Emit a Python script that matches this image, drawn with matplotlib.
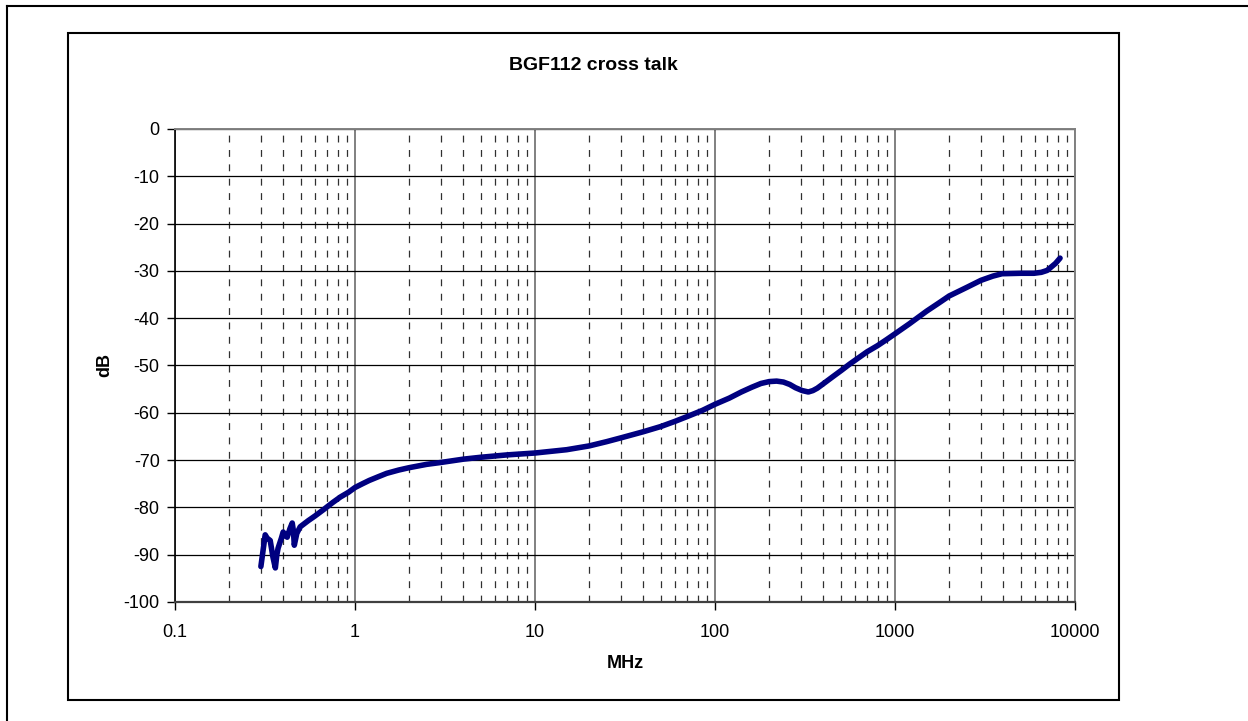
import matplotlib
matplotlib.use("Agg")
import matplotlib.pyplot as plt
from matplotlib.patches import Rectangle
from matplotlib.lines import Line2D
from matplotlib.ticker import FixedLocator, NullFormatter

plt.rcParams['font.family'] = ['Liberation Sans', 'DejaVu Sans']

freq_mhz = [0.30, 0.31, 0.317, 0.325, 0.338, 0.35, 0.361, 0.368, 0.374, 0.39,
            0.399, 0.41, 0.420, 0.435, 0.448, 0.455, 0.460, 0.475, 0.496, 0.55,
            0.6, 0.667, 0.75, 0.83, 0.92, 1.0, 1.1, 1.2, 1.35, 1.5,
            1.75, 2.0, 2.5, 3.0, 4.0, 5.0, 7.0, 10, 15, 20,
            25, 30, 40, 50, 60, 70, 85, 100, 120, 140,
            160, 180, 200, 220, 240, 260, 280, 305, 330, 350,
            370, 405, 450, 505, 560, 626, 700, 800, 900, 1000,
            1200, 1500, 1750, 2000, 2500, 3000, 3500, 3930, 5000, 5920,
            6500, 7000, 7260, 7800, 8260]
crosstalk_db = [-92.5, -88.5, -85.8, -86.5, -87.0, -90.5, -92.8, -90.0, -88.6, -86.5,
                -85.2, -86.0, -86.3, -84.5, -83.3, -85.0, -88.0, -85.5, -84.1, -82.8,
                -81.8, -80.5, -79.0, -77.8, -76.8, -75.8, -75.0, -74.3, -73.5, -72.8,
                -72.1, -71.6, -70.9, -70.5, -69.8, -69.4, -68.9, -68.5, -67.8, -67.0,
                -66.1, -65.3, -64.0, -62.9, -61.8, -60.8, -59.5, -58.2, -56.9, -55.6,
                -54.6, -53.8, -53.4, -53.3, -53.5, -54.0, -54.7, -55.3, -55.6, -55.3,
                -54.8, -53.7, -52.4, -51.0, -49.7, -48.4, -47.1, -45.8, -44.5, -43.3,
                -41.2, -38.5, -36.8, -35.3, -33.5, -32.0, -31.1, -30.6, -30.5, -30.5,
                -30.3, -29.9, -29.4, -28.4, -27.3]
x_ticks = [0.1, 1, 10, 100, 1000, 10000]
x_tick_labels = ["0.1", "1", "10", "100", "1000", "10000"]
y_ticks = [0, -10, -20, -30, -40, -50, -60, -70, -80, -90, -100]
title = "BGF112 cross talk"
x_label = "MHz"
y_label = "dB"

W, H = 1248, 721
fig = plt.figure(figsize=(W / 100, H / 100), dpi=100)
fig.patch.set_facecolor('white')

L, R, T, B = 175, 1075, 129, 602
ax = fig.add_axes([L / W, 1 - B / H, (R - L) / W, (B - T) / H])

ax.set_xscale('log')
ax.set_xlim(0.1, 10000)
ax.set_ylim(-100, 0)

minor_pos = [m * 10.0 ** e for e in range(-1, 4) for m in range(2, 10)]
ax.xaxis.set_minor_locator(FixedLocator(minor_pos))
ax.xaxis.set_minor_formatter(NullFormatter())
ax.set_xticks(x_ticks)
ax.set_xticklabels(x_tick_labels)
ax.set_yticks(y_ticks)
ax.set_yticklabels([str(v) for v in y_ticks])

ax.grid(which='major', axis='y', color='black', linewidth=0.9, linestyle='-')
ax.grid(which='major', axis='x', color='#808080', linewidth=1.4, linestyle='-')
ax.grid(which='minor', axis='x', color='#303030', linewidth=0.9, linestyle=(0, (5.5, 6)))
ax.set_axisbelow(True)

ax.tick_params(axis='x', which='major', labelsize=13, length=6, width=1.0,
               color='black', direction='out', pad=10)
ax.tick_params(axis='y', which='major', labelsize=13, length=6, width=1.0,
               color='black', direction='out', pad=5)
ax.tick_params(axis='x', which='minor', length=0)
ax.tick_params(axis='y', which='minor', length=0)

for side in ['top', 'right']:
    ax.spines[side].set_color('#808080')
    ax.spines[side].set_linewidth(1.4)
ax.spines['left'].set_color('black')
ax.spines['left'].set_linewidth(1.2)
ax.spines['bottom'].set_color('#404040')
ax.spines['bottom'].set_linewidth(1.6)

ax.plot(freq_mhz, crosstalk_db, color='#000080', linewidth=4.0,
        solid_joinstyle='round', solid_capstyle='round', zorder=5)

fig.text(593.5 / W, 1 - 65 / H, title, ha='center', va='center',
         fontsize=14, fontweight='bold')
fig.text(625 / W, 1 - 663 / H, x_label, ha='center', va='center',
         fontsize=13, fontweight='bold')
fig.text(105 / W, 1 - 365 / H, y_label, ha='center', va='center',
         fontsize=13, fontweight='bold', rotation=90)

fig.add_artist(Rectangle((68 / W, 1 - 700 / H), (1119 - 68) / W, (700 - 33) / H,
                         transform=fig.transFigure, fill=False,
                         edgecolor='black', linewidth=1.5))
fig.add_artist(Line2D([7 / W, 1.0], [1 - 6 / H, 1 - 6 / H],
                      transform=fig.transFigure, color='black', linewidth=1.5))
fig.add_artist(Line2D([7 / W, 7 / W], [0.0, 1 - 6 / H],
                      transform=fig.transFigure, color='black', linewidth=1.5))

fig.savefig('out.png', dpi=100, facecolor='white')
